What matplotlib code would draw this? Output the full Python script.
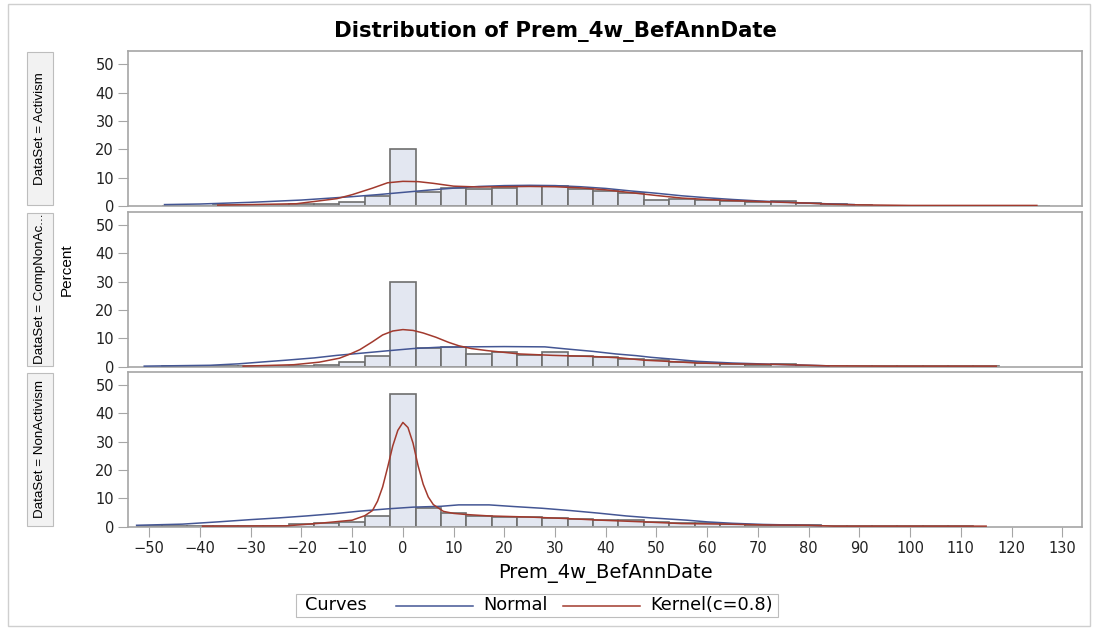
import numpy as np
import matplotlib
matplotlib.use('Agg')
import matplotlib.pyplot as plt
from matplotlib.patches import Rectangle
from matplotlib.lines import Line2D

plt.rcParams['font.family'] = ['DejaVu Sans']

#######################################################################
# Data (percent per 5-unit bin)
#######################################################################
panel_names = ['DataSet = Activism', 'DataSet = CompNonAc...', 'DataSet = NonActivism']

centers_act = list(range(-45, 130, 5))
pct_act = [0.1, 0.1, 0.2, 0.2, 0.3, 0.6, 0.6, 1.3, 3.5, 20.2,
           4.9, 6.4, 6.1, 6.5, 7.1, 7.1, 6.1, 5.3, 4.6, 2.2,
           2.6, 2.1, 1.8, 1.4, 1.6, 1.1, 0.6, 0.2, 0.1, 0.1,
           0.1, 0.1, 0.1, 0.1, 0.1]

centers_comp = list(range(-45, 120, 5))
pct_comp = [0.1, 0.1, 0.1, 0.2, 0.2, 0.4, 0.5, 1.6, 3.9, 30.0,
            6.6, 7.0, 4.6, 5.2, 4.3, 5.2, 3.9, 3.4, 2.7, 2.3,
            1.7, 1.3, 0.8, 0.5, 0.8, 0.2, 0.1, 0.1, 0.1, 0.1,
            0.1, 0.1, 0.1]

centers_non = list(range(-50, 115, 5))
pct_non = [0.1, 0.1, 0.1, 0.2, 0.2, 0.3, 0.8, 1.2, 1.8, 3.8,
           46.8, 6.5, 4.7, 3.9, 3.5, 3.3, 3.2, 2.8, 2.2, 2.2,
           1.5, 1.4, 1.2, 0.9, 0.6, 0.5, 0.7, 0.1, 0.1, 0.1,
           0.1, 0.1, 0.1]

# normal curves
norm_x_act = [-47, -40, -30, -20, -10, -5, 0, 5, 10, 15, 20, 25, 30, 35, 40,
              45, 50, 55, 60, 65, 70, 75, 80, 85, 89]
norm_y_act = [0.5, 0.7, 1.3, 2.1, 3.3, 4.0, 4.8, 5.6, 6.3, 6.9, 7.2, 7.3, 7.2,
              6.8, 6.2, 5.3, 4.5, 3.6, 2.9, 2.3, 1.8, 1.4, 1.0, 0.7, 0.5]
norm_x_comp = [-51, -38, -32.5, -27.5, -23, -17.5, -13, -8, -2.5, 2, 7.5, 12.5,
               20, 28, 32, 37.5, 42, 46, 49, 53, 58, 65, 74, 84]
norm_y_comp = [0.2, 0.5, 1.0, 1.7, 2.3, 3.1, 4.0, 4.8, 5.7, 6.4, 6.9, 7.0,
               7.1, 7.0, 6.3, 5.4, 4.5, 3.9, 3.3, 2.7, 1.9, 1.3, 0.8, 0.3]
norm_x_non = [-52.5, -43.5, -36.5, -30, -24.5, -19, -13.5, -8.5, -3, 2, 7.5,
              11, 17, 22, 27.5, 33, 38.5, 44, 49, 56, 60, 65, 71, 79.5, 82.5]
norm_y_non = [0.5, 0.9, 1.7, 2.5, 3.1, 3.8, 4.6, 5.5, 6.3, 6.9, 7.2, 7.7, 7.7,
              7.1, 6.5, 5.7, 4.8, 3.8, 3.1, 2.3, 1.7, 1.2, 0.8, 0.5, 0.4]

# kernel density curves
kern_x_act = [-36.5, -30, -21, -17, -13, -10, -6, -3, 0, 3, 6, 10, 15, 20, 25,
              30, 35, 40, 45, 50, 55, 60, 65, 70, 75, 80, 85, 90, 100, 110, 125]
kern_y_act = [0.3, 0.5, 0.8, 1.7, 2.6, 4.0, 6.3, 8.2, 8.7, 8.6, 8.0, 7.0, 6.7,
              6.8, 6.9, 6.8, 6.4, 5.7, 4.7, 3.7, 2.8, 2.3, 1.9, 1.6, 1.3, 1.0,
              0.6, 0.4, 0.2, 0.2, 0.2]
kern_x_comp = [-31.5, -21.5, -16.5, -12.5, -10.5, -8.5, -6, -4, -2, 0, 2, 4,
               6.5, 9, 11, 13.5, 16.5, 23, 29.5, 37.5, 43, 47.5, 52, 58, 65,
               74, 84, 95, 105, 117]
kern_y_comp = [0.2, 0.7, 1.6, 3.0, 4.4, 6.0, 8.8, 11.2, 12.6, 13.1, 12.8, 11.9,
               10.4, 8.6, 7.4, 6.4, 5.7, 4.5, 4.0, 3.6, 3.1, 2.3, 1.9, 1.3, 1.0,
               0.8, 0.3, 0.2, 0.2, 0.2]
kern_x_non = [-39.5, -23, -16.5, -10, -7.5, -6, -5, -4, -3, -2, -1, 0, 1, 2,
              3, 4, 5, 6, 8, 10, 12.5, 17, 25, 32, 39, 47.5, 55, 64, 72, 80,
              85, 95, 105, 115]
kern_y_non = [0.2, 0.3, 1.2, 2.3, 3.9, 5.7, 9.0, 14.0, 21.0, 28.5, 34.0, 36.8,
              35.0, 29.5, 21.5, 15.0, 10.5, 7.8, 5.4, 4.7, 4.3, 3.8, 3.4, 2.9,
              2.3, 1.7, 1.1, 0.9, 0.6, 0.5, 0.2, 0.2, 0.2, 0.2]

x_ticks = list(range(-50, 140, 10))
y_ticks = [0, 10, 20, 30, 40, 50]

#####################################################################
# Style
#####################################################################
bar_fill = '#E3E7F1'
bar_edge = '#6E6E6E'
blue = '#445694'
red = '#A23A2E'
frame = '#A6A6A6'

W, H = 1094, 629
fig = plt.figure(figsize=(W / 100, H / 100), dpi=100)

left, right = 128 / W, 1082 / W
tops = [51, 211.7, 371.7]
panel_h = 155

panels = [
    (centers_act, pct_act, norm_x_act, norm_y_act, kern_x_act, kern_y_act),
    (centers_comp, pct_comp, norm_x_comp, norm_y_comp, kern_x_comp, kern_y_comp),
    (centers_non, pct_non, norm_x_non, norm_y_non, kern_x_non, kern_y_non),
]

axes = []
for i, (cx, pc, nx, ny, kx, ky) in enumerate(panels):
    top = tops[i]
    ax = fig.add_axes([left, 1 - (top + panel_h) / H, right - left, panel_h / H])
    ax.bar(cx, pc, width=5, color=bar_fill, edgecolor=bar_edge, linewidth=1.2, zorder=2)
    ax.plot(nx, ny, color=blue, lw=1.1, zorder=3)
    ax.plot(kx, ky, color=red, lw=1.1, zorder=4)
    ax.set_xlim(-54.2, 133.9)
    ax.set_ylim(0, 54.7)
    ax.set_yticks(y_ticks)
    ax.set_xticks(x_ticks)
    for s in ax.spines.values():
        s.set_color(frame)
        s.set_linewidth(1.2)
    ax.tick_params(axis='both', length=7, color=frame, labelsize=10.5, pad=3,
                   labelcolor='#222222')
    if i < 2:
        ax.tick_params(axis='x', bottom=False, labelbottom=False)
    # strip label on the left
    sy0 = 1 - (top + panel_h - 1) / H
    fig.patches.append(Rectangle((27 / W, sy0), 26 / W, (panel_h - 2) / H,
                                 transform=fig.transFigure, facecolor='#F2F2F2',
                                 edgecolor='#BDBDBD', lw=0.8))
    fig.text(40 / W, 1 - (top + panel_h / 2) / H, panel_names[i], rotation=90,
             ha='center', va='center', fontsize=9.6, family='Liberation Sans')
    axes.append(ax)

axes[-1].set_xlabel('Prem_4w_BefAnnDate', fontsize=14, labelpad=5)
fig.text(67 / W, 1 - 270 / H, 'Percent', rotation=90, ha='center', va='center',
         fontsize=11, family='Liberation Sans')

fig.text(555 / W, 1 - 32 / H, 'Distribution of Prem_4w_BefAnnDate',
         ha='center', va='center', fontsize=15.3, fontweight='bold')

# outer border
fig.patches.append(Rectangle((8 / W, 3 / H), 1082 / W, 622 / H,
                             transform=fig.transFigure, fill=False,
                             edgecolor='#CFCFCF', lw=1))

# legend
ly = 1 - 605.5 / H
fig.patches.append(Rectangle((296 / W, 1 - 617 / H), 482 / W, 23 / H,
                             transform=fig.transFigure, fill=False,
                             edgecolor='#BDBDBD', lw=0.8))
fig.text(305 / W, ly, 'Curves', ha='left', va='center', fontsize=12.8)
fig.lines.append(Line2D([396 / W, 473 / W], [ly, ly], transform=fig.transFigure,
                        color=blue, lw=1.1))
fig.text(483 / W, ly, 'Normal', ha='left', va='center', fontsize=12.8)
fig.lines.append(Line2D([563 / W, 640 / W], [ly, ly], transform=fig.transFigure,
                        color=red, lw=1.1))
fig.text(650 / W, ly, 'Kernel(c=0.8)', ha='left', va='center', fontsize=12.8)

fig.savefig('out.png', dpi=100)
